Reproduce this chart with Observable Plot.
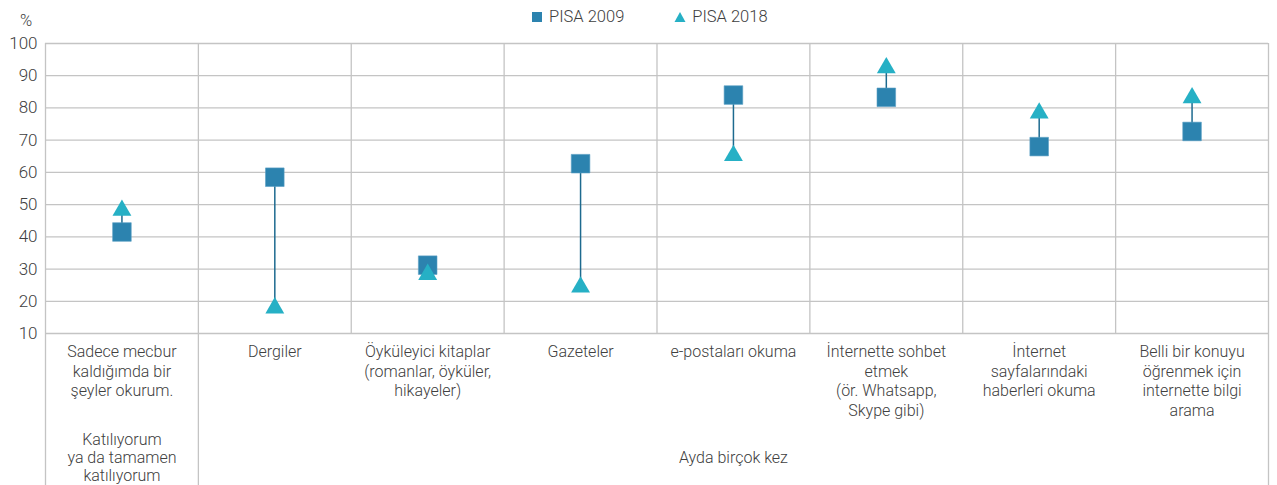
<!DOCTYPE html>
<html>
<head>
<meta charset="utf-8">
<script src="https://cdn.jsdelivr.net/npm/d3@7"></script>
<script src="https://cdn.jsdelivr.net/npm/@observablehq/plot@0.6"></script>
<style>
  body { margin: 0; background: #fff; font-family: Roboto, "DejaVu Sans", sans-serif; }
  #wrap { position: relative; width: 1277px; height: 485px; }
  #legend { position: absolute; top: 7px; left: 531px; display: flex; align-items: center; font-size: 16.5px; color: #404040; font-weight: 300; }
  #legend .item { display: flex; align-items: center; margin-right: 50px; }
  #legend svg { margin-right: 6px; }
  #pct { position: absolute; top: 11px; left: 20px; font-size: 16.5px; color: #404040; font-weight: 300; }
</style>
</head>
<body>
<div id="wrap">
  <div id="chart"></div>
  <div id="pct">%</div>
  <div id="legend"></div>
</div>
<script>
const categories = [
  "Sadece mecbur\nkaldığımda bir\nşeyler okurum.",
  "Dergiler",
  "Öyküleyici kitaplar\n(romanlar, öyküler,\nhikayeler)",
  "Gazeteler",
  "e-postaları okuma",
  "İnternette sohbet\netmek\n(ör. Whatsapp,\nSkype gibi)",
  "İnternet\nsayfalarındaki\nhaberleri okuma",
  "Belli bir konuyu\nöğrenmek için\ninternette bilgi\narama"
];
const pisa2009 = [41.5, 58.5, 31.2, 62.7, 84, 83.3, 68, 72.7];
const pisa2018 = [49, 18.7, 29.1, 25.2, 66, 93.2, 79.2, 83.9];
const groupLabels = ["Katılıyorum\nya da tamamen\nkatılıyorum", "Ayda birçok kez"];
const groupStart = [0, 1];
const groupEnd = [1, 8];
const yTicks = [10, 20, 30, 40, 50, 60, 70, 80, 90, 100];
const seriesNames = ["PISA 2009", "PISA 2018"];

const colors = { s2009: "#2c83af", s2018: "#26b0c5", link: "#1d6a8f", grid: "#c4c4c4", text: "#404040" };

const W = 1277, H = 485, mTop = 43, mBottom = 152, mLeft = 45, mRight = 9;
const yDomain = [10, 100];
// y value at the very bottom of the SVG (for separators running into the label area)
const yAtBottom = d3.scaleLinear().domain(yDomain).range([H - mBottom, mTop]).invert(H);

const rows = categories.map((c, i) => ({ i, cat: c, x: i + 0.5, v09: pisa2009[i], v18: pisa2018[i] }));
const seps = d3.range(0, categories.length + 1);
const longSeps = seps.filter(s => groupStart.includes(s) || s === categories.length);
const shortSeps = seps.filter(s => !longSeps.includes(s));
const groups = groupLabels.map((g, k) => ({ label: g, x: (groupStart[k] + groupEnd[k]) / 2 }));

const chart = Plot.plot({
  width: W,
  height: H,
  marginTop: mTop,
  marginBottom: mBottom,
  marginLeft: mLeft,
  marginRight: mRight,
  style: { fontFamily: "Roboto, sans-serif", color: colors.text, background: "#fff", fontWeight: 300 },
  x: { domain: [0, categories.length], axis: null },
  y: { domain: yDomain, axis: null },
  marks: [
    Plot.ruleY(yTicks, { stroke: colors.grid, strokeWidth: 1.3 }),
    Plot.ruleX(shortSeps, { y1: yDomain[0], y2: yDomain[1], stroke: colors.grid, strokeWidth: 1.3 }),
    Plot.ruleX(longSeps, { y1: yDomain[1], y2: yAtBottom, stroke: colors.grid, strokeWidth: 1.3 }),
    Plot.axisY({ ticks: yTicks, tickSize: 0, tickPadding: 8, fontSize: 17, anchor: "left" }),
    Plot.text(rows, { x: "x", y: yDomain[0], text: "cat", dy: 10, lineAnchor: "top", lineHeight: 1.22, fontSize: 16, fill: colors.text }),
    Plot.text(groups, { x: "x", y: yDomain[0], text: "label", dy: 124, lineAnchor: "middle", lineHeight: 1.12, fontSize: 16, fill: colors.text }),
    Plot.link(rows, { x1: "x", x2: "x", y1: "v09", y2: "v18", stroke: colors.link, strokeWidth: 1.5 }),
    Plot.dot(rows, { x: "x", y: "v09", symbol: "square", r: 10.5, fill: colors.s2009, stroke: "#5a9fc4", strokeWidth: 0.6 }),
    Plot.dot(rows, { x: "x", y: "v18", symbol: "triangle", r: 7, dy: 2.5, fill: colors.s2018 })
  ]
});
document.getElementById("chart").appendChild(chart);

// legend
const legend = document.getElementById("legend");
const legendSymbols = [
  `<svg width="12" height="12"><rect x="1" y="1" width="10" height="10" fill="${colors.s2009}"/></svg>`,
  `<svg width="12" height="12"><path d="M6,1 L11.5,11 L0.5,11 Z" fill="${colors.s2018}"/></svg>`
];
seriesNames.forEach((name, k) => {
  const item = document.createElement("div");
  item.className = "item";
  item.innerHTML = legendSymbols[k] + `<span>${name}</span>`;
  legend.appendChild(item);
});
</script>
</body>
</html>
